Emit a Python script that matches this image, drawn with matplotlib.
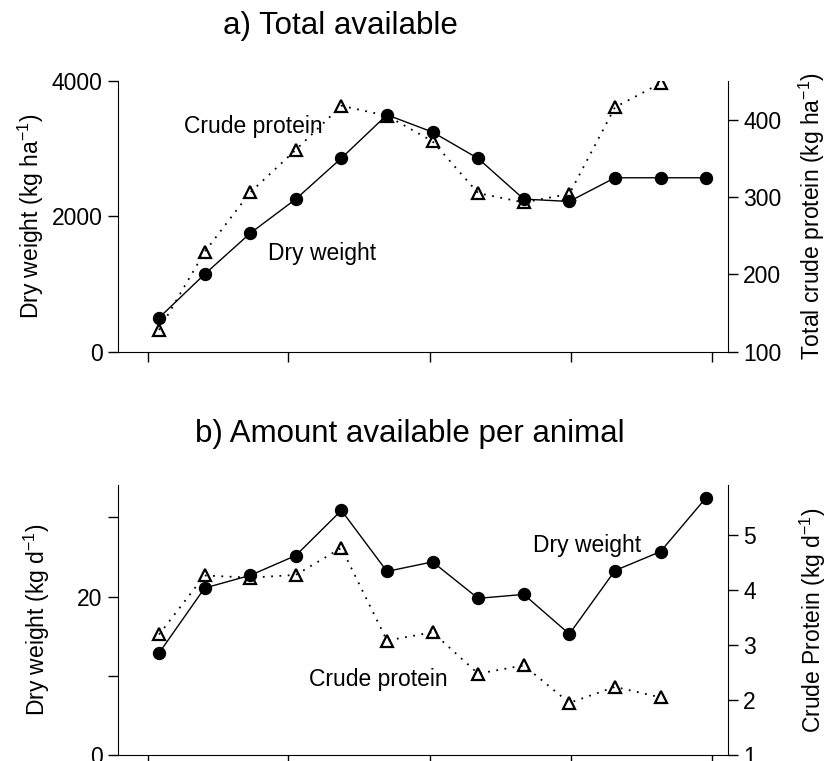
import matplotlib
matplotlib.use('Agg')
import matplotlib.pyplot as plt

plt.rcParams['font.family'] = ['Liberation Sans', 'DejaVu Sans']
plt.rcParams['mathtext.fontset'] = 'custom'
plt.rcParams['mathtext.rm'] = 'Liberation Sans'
plt.rcParams['mathtext.it'] = 'Liberation Sans:italic'

# sampling days (13 harvests)
days = [0, 10, 20, 30, 40, 50, 60, 70, 80, 90, 100, 110, 120]
days_cp = days[:12]

# a) total available
total_dw = [500, 1145, 1750, 2255, 2860, 3500, 3245, 2855, 2255, 2220, 2570, 2570, 2570]
total_cp = [128, 229, 306, 361, 418, 405, 372, 305, 293, 304, 416, 447]

# b) per animal
animal_dw = [12.9, 21.1, 22.7, 25.2, 30.9, 23.2, 24.4, 19.8, 20.3, 15.3, 23.3, 25.7, 32.5]
animal_cp = [3.19, 4.26, 4.22, 4.27, 4.76, 3.08, 3.23, 2.48, 2.63, 1.95, 2.24, 2.05]

xticks = [-2.4, 28.3, 59.4, 90.4, 121.3]

fs = 16.5
W, H = 828, 761
fig = plt.figure(figsize=(W / 100, H / 100), dpi=100)

def make_axes(rect):
    ax = fig.add_axes(rect)
    ax2 = ax.twinx()
    for a in (ax, ax2):
        a.spines['top'].set_visible(False)
        a.tick_params(direction='out', length=7, width=1, labelsize=fs, pad=4)
    ax.spines['right'].set_visible(False)
    ax2.spines['left'].set_visible(False)
    ax2.spines['bottom'].set_visible(False)
    ax.set_xlim(-9.0, 124.8)
    ax.set_xticks(xticks)
    ax.set_xticklabels([])
    return ax, ax2

def draw(ax, ax2, dw, cp):
    ax.plot(days, dw, '-', color='black', lw=1, marker='o', ms=8.6,
            mfc='black', mec='black', zorder=3)
    ax2.plot(days_cp, cp, color='black', lw=1.3, ls=(0, (1, 3.6)),
             marker='^', ms=8.5, mfc='none', mec='black', mew=1.6)

# top panel
ax, ax2 = make_axes([118 / W, 1 - 351.7 / H, 610 / W, 270.7 / H])
draw(ax, ax2, total_dw, total_cp)
ax.set_ylim(0, 4000)
ax.set_yticks([0, 2000, 4000])
ax2.set_ylim(100, 450)
ax2.set_yticks([100, 200, 300, 400])
ax.set_ylabel(r'Dry weight (kg ha$^{-1}$)', fontsize=fs, labelpad=4)
ax2.set_ylabel(r'Total crude protein (kg ha$^{-1}$)', fontsize=fs, labelpad=11)
ax.text(5.5, 3324, 'Crude protein', fontsize=fs, va='center', ha='left')
ax.text(23.9, 1445, 'Dry weight', fontsize=fs, va='center', ha='left')

# bottom panel
bx, bx2 = make_axes([118 / W, 1 - 755.3 / H, 610 / W, 270.3 / H])
draw(bx, bx2, animal_dw, animal_cp)
bx.set_ylim(0, 34.1)
bx.set_yticks([0, 10, 20, 30])
bx.set_yticklabels(['0', '', '20', ''])
bx2.set_ylim(1, 5.9)
bx2.set_yticks([1, 2, 3, 4, 5])
bx.set_ylabel(r'Dry weight (kg d$^{-1}$)', fontsize=fs, labelpad=18)
bx2.set_ylabel(r'Crude Protein (kg d$^{-1}$)', fontsize=fs, labelpad=30)
bx.text(82.1, 26.5, 'Dry weight', fontsize=fs, va='center', ha='left')
bx.text(32.9, 9.5, 'Crude protein', fontsize=fs, va='center', ha='left')

fig.text(340.5 / W, 1 - 26 / H, 'a) Total available', fontsize=22.5,
         ha='center', va='center')
fig.text(410 / W, 1 - 434 / H, 'b) Amount available per animal', fontsize=22.5,
         ha='center', va='center')

fig.savefig('out.png', dpi=100)
